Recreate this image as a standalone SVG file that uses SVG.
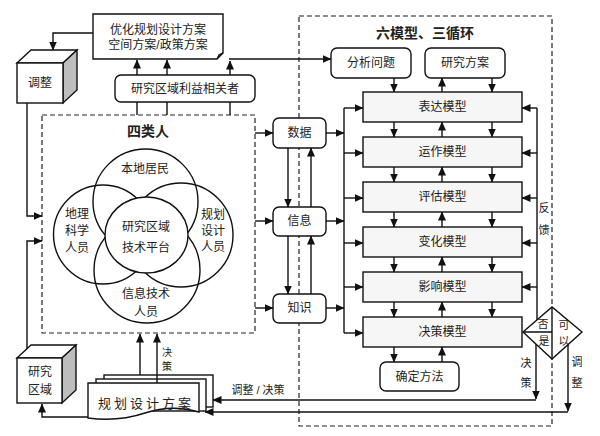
<svg xmlns="http://www.w3.org/2000/svg" width="600" height="436" viewBox="0 0 600 436">
<defs>
<marker id="ah" markerWidth="9" markerHeight="8" refX="8.5" refY="4" orient="auto" markerUnits="userSpaceOnUse"><path d="M0,0 L9,4 L0,8 Z" fill="#111"/></marker>
</defs>
<style>
text{font-family:"Liberation Sans","Noto Sans CJK SC",sans-serif;fill:#222;font-size:12px;text-anchor:middle;dominant-baseline:central}
.ln{fill:none;stroke:#111;stroke-width:1.4}
.ar{fill:none;stroke:#111;stroke-width:1.4;marker-end:url(#ah)}
.dash{fill:none;stroke:#222;stroke-width:1.2;stroke-dasharray:5 3}
.rb{fill:#fff;stroke:#111;stroke-width:1.4}
.mb{fill:#f6f6f6;stroke:#111;stroke-width:1.4}
.circ{fill:none;stroke:#111;stroke-width:1.4}
.side{fill:#bdbdbd;stroke:#111;stroke-width:1.4}
.title{font-size:14px;font-weight:bold}
.sm{font-size:11px}
.xs{font-size:10px}
</style>
<rect width="600" height="436" fill="#fff"/>

<g id="four-people-frame">
<rect class="dash" x="42" y="115" width="213" height="218"/>
<text class="title" x="148" y="131">四类人</text>
</g>
<g id="six-models-frame">
<rect class="dash" x="299" y="16" width="253" height="410"/>
<text class="title" x="425" y="33">六模型、三循环</text>
</g>

<g id="doc-optimize">
<path class="rb" d="M93,14 H223 V53 L217,59 H93 Z"/>
<path class="ln" d="M217,59 L219,55 L223,53"/>
<text x="158" y="30">优化规划设计方案</text>
<text x="158" y="45">空间方案/政策方案</text>
</g>

<g id="cube-adjust">
<path class="rb" d="M17,63 L31,50 H77 L63,63 Z"/>
<path class="side" d="M63,63 L77,50 V90 L63,103 Z"/>
<rect class="rb" x="17" y="63" width="46" height="40"/>
<text x="40" y="83">调整</text>
</g>

<g id="stakeholders">
<rect class="rb" x="115" y="75" width="140" height="27" rx="6"/>
<text x="185" y="89">研究区域利益相关者</text>
</g>

<g id="circle-local"><circle class="circ" cx="145.5" cy="201.5" r="52.5"/><text x="145" y="169">本地居民</text></g>
<g id="circle-geo"><circle class="circ" cx="103" cy="234.5" r="49.5"/><text x="77" y="214">地理</text><text x="77" y="231">科学</text><text x="77" y="248">人员</text></g>
<g id="circle-plan"><circle class="circ" cx="181" cy="235" r="52"/><text x="213" y="215">规划</text><text x="213" y="231">设计</text><text x="213" y="247">人员</text></g>
<g id="circle-it"><circle class="circ" cx="147" cy="270" r="53"/><text x="146" y="294">信息技术</text><text x="146" y="312">人员</text></g>
<g id="circle-center"><ellipse cx="146.5" cy="235" rx="41.5" ry="38" fill="#fff" stroke="#111" stroke-width="1.4"/><text x="146" y="227">研究区域</text><text x="146" y="248">技术平台</text></g>

<g id="data"><rect class="rb" x="273" y="118" width="53" height="30" rx="6"/><text x="299.5" y="133">数据</text></g>
<g id="info"><rect class="rb" x="273" y="207" width="53" height="29" rx="6"/><text x="299.5" y="221">信息</text></g>
<g id="knowledge"><rect class="rb" x="273" y="294" width="53" height="29" rx="6"/><text x="299.5" y="308">知识</text></g>

<g id="analyze"><rect class="rb" x="331" y="48" width="80" height="30" rx="6"/><text x="371" y="63">分析问题</text></g>
<g id="research-plan"><rect class="rb" x="425" y="48" width="80" height="30" rx="6"/><text x="465" y="63">研究方案</text></g>

<g id="model-express"><rect class="mb" x="363" y="92" width="159" height="30"/><text x="442.5" y="107">表达模型</text></g>
<g id="model-operate"><rect class="mb" x="363" y="137" width="159" height="30"/><text x="442.5" y="152">运作模型</text></g>
<g id="model-evaluate"><rect class="mb" x="363" y="182" width="159" height="30"/><text x="442.5" y="197">评估模型</text></g>
<g id="model-change"><rect class="mb" x="363" y="227" width="159" height="30"/><text x="442.5" y="242">变化模型</text></g>
<g id="model-impact"><rect class="mb" x="363" y="272" width="159" height="30"/><text x="442.5" y="287">影响模型</text></g>
<g id="model-decision"><rect class="mb" x="363" y="317" width="159" height="30"/><text x="442.5" y="332">决策模型</text></g>

<g id="method"><rect class="rb" x="380" y="362" width="79" height="29" rx="6"/><text x="419.5" y="377">确定方法</text></g>

<g id="diamond">
<polygon class="rb" points="523,332 552,307 582,332 552,359"/>
<path class="ln" d="M523,332 H552 M552,307 V359"/>
<text class="sm" x="543" y="324">否</text>
<text class="sm" x="544" y="341">是</text>
<text class="sm" x="564" y="325">可</text>
<text class="sm" x="564" y="341">以</text>
</g>

<g id="plan-doc">
<rect class="rb" x="104" y="375" width="109" height="32"/>
<rect class="rb" x="96" y="379" width="110" height="32"/>
<path class="rb" d="M88,383 H199 V412 Q172,404 145,413 T88,418 Z"/>
<text x="146" y="403" style="font-size:13px;letter-spacing:3px">规划设计方案</text>
</g>

<g id="cube-area">
<path class="rb" d="M17,358 L31,345 H76 L62,358 Z"/>
<path class="side" d="M62,358 L76,345 V390 L62,403 Z"/>
<rect class="rb" x="17" y="358" width="45" height="45"/>
<text x="40" y="372">研究</text>
<text x="40" y="390">区域</text>
</g>

<g id="connectors">
<path class="ar" d="M93,33 H53 V50"/>
<path class="ar" d="M27,103 V216 H42"/>
<path class="ar" d="M27,349 V241 H42"/>
<path class="ar" d="M88,417 H42 V404"/>
<path class="ln" d="M137,115 V102 M167,115 V102 M230,115 V102"/>
<path class="ar" d="M137,75 V60"/>
<path class="ar" d="M167,75 V60"/>
<path class="ar" d="M230,75 V61"/>
<path class="ar" d="M229,59 H331"/>
<path class="ar" d="M255,133 H273"/>
<path class="ar" d="M255,221 H273"/>
<path class="ar" d="M255,308 H273"/>
<path class="ar" d="M288,148 V207"/>
<path class="ar" d="M311,207 V148"/>
<path class="ar" d="M288,236 V294"/>
<path class="ar" d="M311,294 V236"/>
<path class="ar" d="M326,133 H344"/>
<path class="ar" d="M326,221 H344"/>
<path class="ar" d="M326,308 H344"/>
<path class="ln" d="M344,108 V333"/>
<path class="ar" d="M344,108 H363"/>
<path class="ar" d="M344,153 H363"/>
<path class="ar" d="M344,198 H363"/>
<path class="ar" d="M344,243 H363"/>
<path class="ar" d="M344,287 H363"/>
<path class="ar" d="M344,333 H363"/>
<path class="ar" d="M394,78 V92"/>
<path class="ar" d="M442,92 V78"/>
<path class="ar" d="M492,78 V92"/>
<path class="ar" d="M394,122 V137"/><path class="ar" d="M442,137 V122"/><path class="ar" d="M492,122 V137"/>
<path class="ar" d="M394,167 V182"/><path class="ar" d="M442,182 V167"/><path class="ar" d="M492,167 V182"/>
<path class="ar" d="M394,212 V227"/><path class="ar" d="M442,227 V212"/><path class="ar" d="M492,212 V227"/>
<path class="ar" d="M394,257 V272"/><path class="ar" d="M442,272 V257"/><path class="ar" d="M492,257 V272"/>
<path class="ar" d="M394,302 V317"/><path class="ar" d="M442,317 V302"/><path class="ar" d="M492,302 V317"/>
<path class="ar" d="M394,347 V362"/><path class="ar" d="M442,362 V347"/>
<path class="ln" d="M537,108 V320"/>
<path class="ar" d="M537,108 H522"/>
<path class="ar" d="M537,153 H522"/>
<path class="ar" d="M537,198 H522"/>
<path class="ar" d="M537,243 H522"/>
<path class="ar" d="M537,287 H522"/>
<path class="ar" d="M536,344 V399"/>
<path class="ar" d="M536,400 H213"/>
<path class="ar" d="M568,345 V411"/>
<path class="ar" d="M568,412 H205"/>
<path class="ar" d="M140,375 V334"/>
<path class="ar" d="M157,383 V334"/>
</g>

<g id="labels">
<text class="sm" x="544" y="208">反</text>
<text class="sm" x="544" y="230">馈</text>
<text class="sm" x="526" y="363">决</text>
<text class="sm" x="526" y="383">策</text>
<text class="sm" x="577" y="362">调</text>
<text class="sm" x="577" y="383">整</text>
<text class="xs" x="167" y="352">决</text>
<text class="xs" x="167" y="366">策</text>
<text class="sm" x="258" y="390">调整 / 决策</text>
</g>
</svg>
